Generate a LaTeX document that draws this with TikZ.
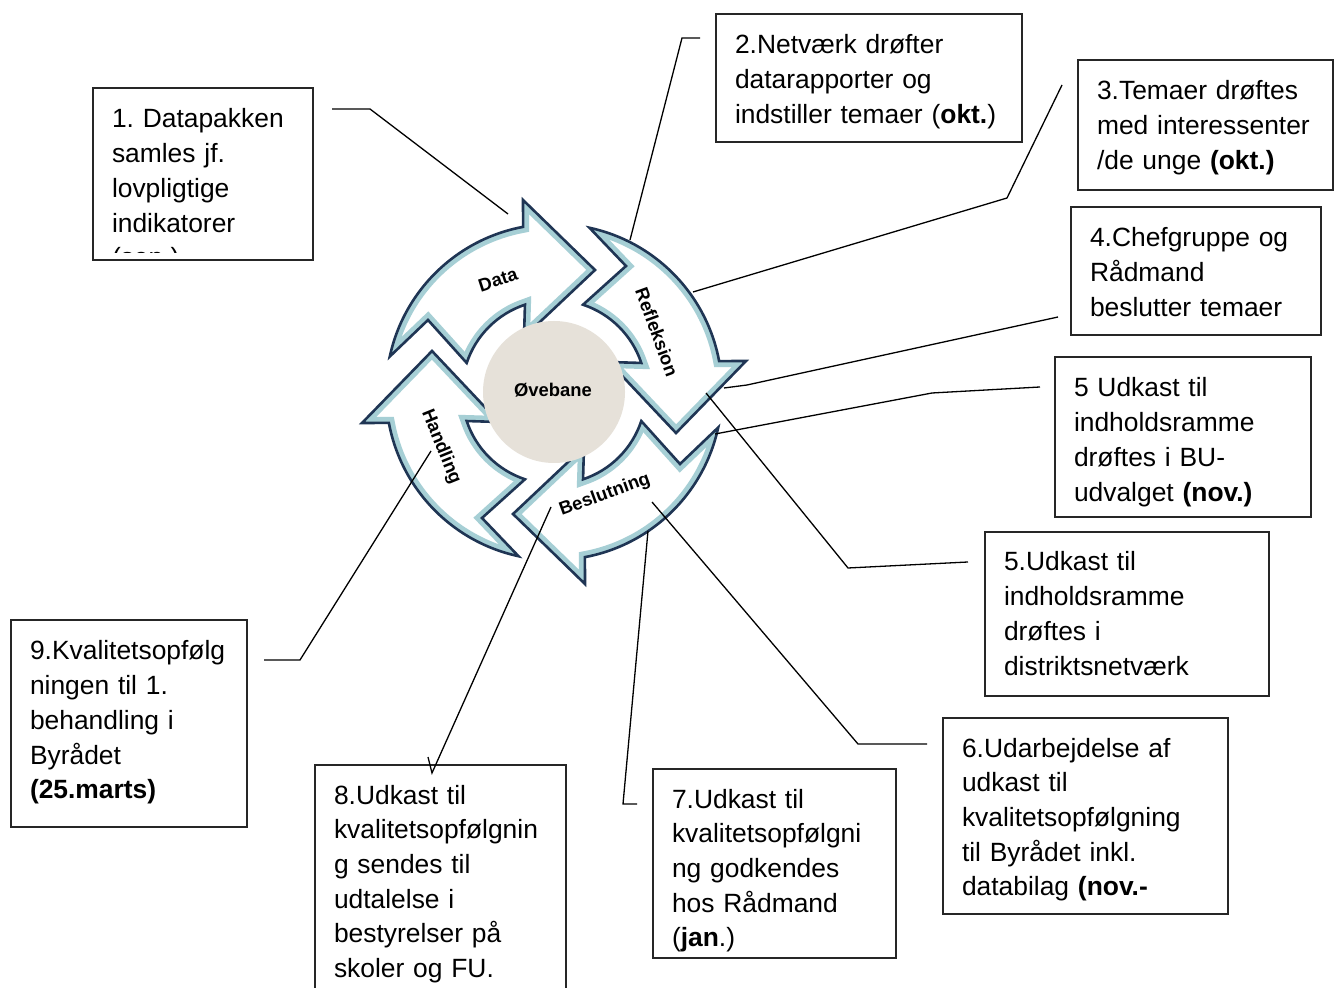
\documentclass[tikz,border=0pt]{standalone}
\usepackage{fontspec}
\setmainfont{Liberation Sans}
\frenchspacing

\definecolor{ringnavy}{HTML}{1F3554}
\definecolor{ringteal}{HTML}{A6CFD5}
\definecolor{hubgray}{HTML}{E6E1D9}

% one curved arrow of the cycle, centre at the origin, y up
\newcommand{\cyclearrow}{(167.8:168) -- (-126,72) -- (161.6:92) arc[start angle=161.6, end angle=108.4, radius=92] -- (-30,55) -- (41,122) -- (-31,192) -- (100.6:168) arc[start angle=100.6, end angle=167.8, radius=168] -- cycle}

\tikzset{
  infobox/.style={draw=black!85, line width=1pt, anchor=north west, inner sep=0pt, outer sep=0pt},
  boxtext/.style={anchor=base west, inner sep=0pt, outer sep=0pt, align=left, text width=250pt, font=\fontsize{13.2}{17.35}\selectfont},
  ringlabel/.style={font=\fontsize{9.2}{10}\selectfont\bfseries, inner sep=0pt},
  leader/.style={draw=black, line width=0.65pt}
}

\begin{document}
\begin{tikzpicture}[x=0.5pt,y=-0.5pt]
  \useasboundingbox (0,0) rectangle (1339,988);
  \fill[white] (0,0) rectangle (1339,988);

  % the four arrows of the cycle
  \foreach \k in {0,1,2,3} {
    \begin{scope}[shift={(554,392)}, y=0.5pt, rotate=-90*\k]
      \fill[white] \cyclearrow;
      \begin{scope}
        \clip \cyclearrow;
        \draw[ringteal, line width=6pt] \cyclearrow;
      \end{scope}
      \draw[ringnavy, line width=1.3pt, line join=miter] \cyclearrow;
    \end{scope}
  }
  \fill[hubgray] (554,392) circle (35.5pt);
  \node[ringlabel] (hub) at (553,390) {Øvebane};

  \node[ringlabel, rotate=18] (data) at (498,280) {Data};
  \node[ringlabel, rotate=-70] (refleksion) at (657,332) {Refleksion};
  \node[ringlabel, rotate=20] (beslutning) at (605,495) {Beslutning};
  \node[ringlabel, rotate=-68] (handling) at (441,447) {Handling};

  % text boxes
  \node[infobox, minimum width=110pt, minimum height=86pt] (box1) at (93,88) {};
  \begin{scope}
    \clip (93,88) rectangle (313,253);
    \node[boxtext] (t1) at ([shift={(19,40)}]box1.north west) {1. Datapakken\\samles jf.\\lovpligtige\\indikatorer\\(sep.)};
  \end{scope}

  \node[infobox, minimum width=153pt, minimum height=64pt] (box2) at (716,14) {};
  \node[boxtext] (t2) at ([shift={(19,40)}]box2.north west) {2.Netværk drøfter\\datarapporter og\\indstiller temaer (\textbf{okt.})};

  \node[infobox, minimum width=127.5pt, minimum height=65pt] (box3) at (1078,60) {};
  \node[boxtext] (t3) at ([shift={(19,40)}]box3.north west) {3.Temaer drøftes\\med interessenter\\/de unge \textbf{(okt.)}};

  \node[infobox, minimum width=125pt, minimum height=64pt] (box4) at (1071,207) {};
  \node[boxtext] (t4) at ([shift={(19,40)}]box4.north west) {4.Chefgruppe og\\Rådmand\\beslutter temaer};

  \node[infobox, minimum width=128pt, minimum height=80pt] (box5a) at (1055,357) {};
  \node[boxtext] (t5a) at ([shift={(19,40)}]box5a.north west) {5 Udkast til\\indholdsramme\\drøftes i BU-\\udvalget \textbf{(nov.)}};

  \node[infobox, minimum width=142pt, minimum height=82pt] (box5b) at (985,532) {};
  \node[boxtext] (t5b) at ([shift={(19,39)}]box5b.north west) {5.Udkast til\\indholdsramme\\drøftes i\\distriktsnetværk};

  \node[infobox, minimum width=142.5pt, minimum height=98pt] (box6) at (943,718) {};
  \node[boxtext] (t6) at ([shift={(19,39)}]box6.north west) {6.Udarbejdelse af\\udkast til\\kvalitetsopfølgning\\til Byrådet inkl.\\databilag \textbf{(nov.-}};

  \node[infobox, minimum width=121.5pt, minimum height=94.5pt] (box7) at (653,769) {};
  \node[boxtext] (t7) at ([shift={(19,39)}]box7.north west) {7.Udkast til\\kvalitetsopfølgni\\ng godkendes\\hos Rådmand\\(\textbf{jan}.)};

  \node[infobox, minimum width=125.5pt, minimum height=120pt] (box8) at (315,765) {};
  \node[boxtext] (t8) at ([shift={(19,39)}]box8.north west) {8.Udkast til\\kvalitetsopfølgnin\\g sendes til\\udtalelse i\\bestyrelser på\\skoler og FU.};

  \node[infobox, minimum width=118pt, minimum height=103.5pt] (box9) at (11,620) {};
  \node[boxtext] (t9) at ([shift={(19,40)}]box9.north west) {9.Kvalitetsopfølg\\ningen til 1.\\behandling i\\Byrådet\\\textbf{(25.marts)}};

  % leader lines
  \coordinate (s1) at (332,109);   \coordinate (e1) at (508,214);
  \coordinate (s2) at (700,38);    \coordinate (e2) at (630,240);
  \coordinate (s3) at (1062,85);   \coordinate (e3) at (693,292);
  \coordinate (s4) at (1058,317);  \coordinate (e4) at (724,388);
  \coordinate (s5a) at (1040,387); \coordinate (e5a) at (715,434);
  \coordinate (s5b) at (968,562);  \coordinate (e5b) at (706,393);
  \coordinate (s6) at (927,744);   \coordinate (e6) at (652,502);
  \coordinate (s7) at (637,804);   \coordinate (e7) at (648,531);
  \coordinate (s8) at (428,757);   \coordinate (e8) at (551,507);
  \coordinate (s9) at (264,660);   \coordinate (e9) at (431,451);

  \draw[leader] (s1) -- (370,109) -- (e1);
  \draw[leader] (s2) -- (682,38) -- (e2);
  \draw[leader] (s3) -- (1007,198) -- (e3);
  \draw[leader] (s4) -- (747,385) -- (e4);
  \draw[leader] (s5a) -- (932,393) -- (e5a);
  \draw[leader] (s5b) -- (848,568) -- (e5b);
  \draw[leader] (s6) -- (858,744) -- (e6);
  \draw[leader] (s7) -- (623,804) -- (e7);
  \draw[leader] (s8) -- (432,773) -- (e8);
  \draw[leader] (s9) -- (300,660) -- (e9);
\end{tikzpicture}
\end{document}
